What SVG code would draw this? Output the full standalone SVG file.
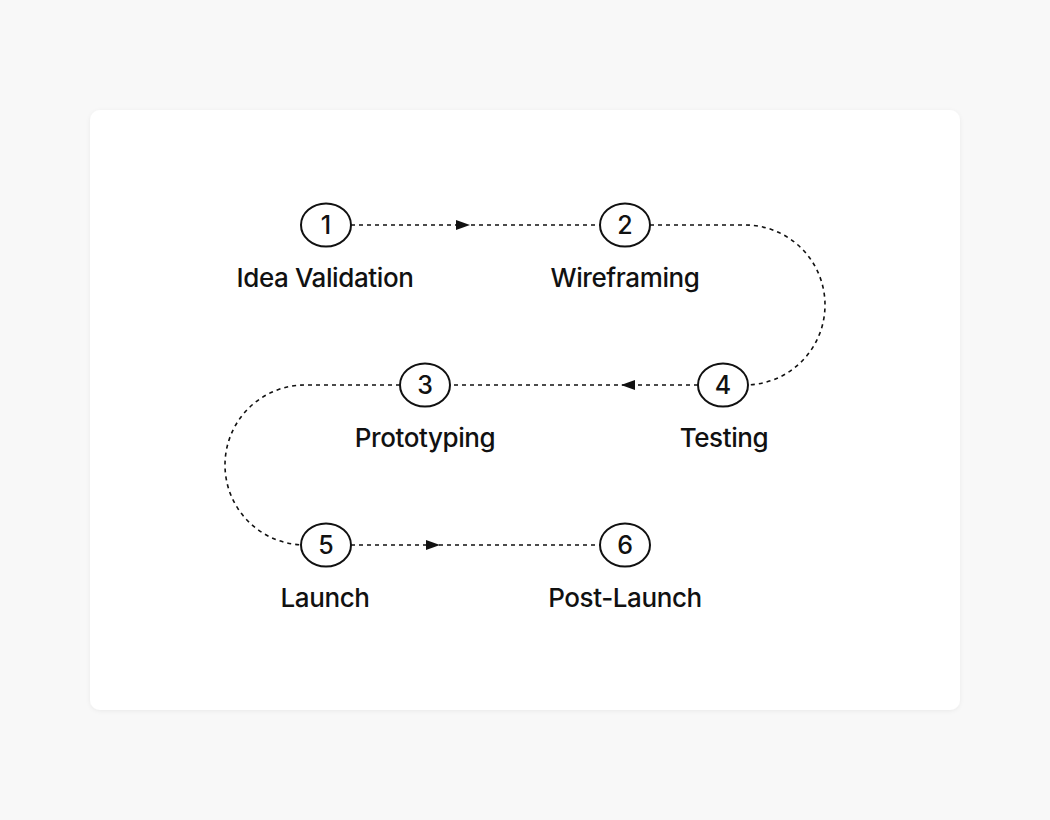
<svg xmlns="http://www.w3.org/2000/svg" width="1050" height="820" viewBox="0 0 1050 820">
  <defs>
    <filter id="shadow" x="-5%" y="-5%" width="110%" height="110%">
      <feDropShadow dx="0" dy="1" stdDeviation="2" flood-color="#000" flood-opacity="0.06"/>
    </filter>
    <style>
      .conn { fill: none; stroke: #111; stroke-width: 1.6; stroke-dasharray: 4 4; }
      .arrow { fill: #111; stroke: none; }
      .node ellipse { fill: #fff; stroke: #111; stroke-width: 2; }
      .num { font-family: Inter, "Liberation Sans", sans-serif; font-size: 25px; font-weight: 500; fill: #111; text-anchor: middle; }
      .label { font-family: Inter, "Liberation Sans", sans-serif; font-size: 26px; font-weight: 500; fill: #111; text-anchor: middle; letter-spacing: -0.4px; }
    </style>
  </defs>
  <rect width="1050" height="820" fill="#f8f8f8"/>
  <rect x="90" y="110" width="870" height="600" rx="10" fill="#fff" filter="url(#shadow)"/>

  <g id="connectors">
    <path class="conn" d="M351,225 H600"/>
    <path class="arrow" d="M456,220 L470,225 L456,230 Z"/>
    <path class="conn" d="M650,225 H745 A80,80 0 0 1 745,385 H748"/>
    <path class="conn" d="M698,385 H450"/>
    <path class="arrow" d="M635,380 L621,385 L635,390 Z"/>
    <path class="conn" d="M400,385 H305 A80,80 0 0 0 305,545 H301"/>
    <path class="conn" d="M351,545 H600"/>
    <path class="arrow" d="M426,540 L440,545 L426,550 Z"/>
  </g>

  <g id="node1" class="node">
    <ellipse cx="326" cy="225" rx="25" ry="21.5"/>
    <text class="num" x="326" y="234">1</text>
    <text class="label" x="325" y="287">Idea Validation</text>
  </g>
  <g id="node2" class="node">
    <ellipse cx="625" cy="225" rx="25" ry="21.5"/>
    <text class="num" x="625" y="234">2</text>
    <text class="label" x="625" y="287">Wireframing</text>
  </g>
  <g id="node3" class="node">
    <ellipse cx="425" cy="385" rx="25" ry="21.5"/>
    <text class="num" x="425" y="394">3</text>
    <text class="label" x="425" y="447">Prototyping</text>
  </g>
  <g id="node4" class="node">
    <ellipse cx="723" cy="385" rx="25" ry="21.5"/>
    <text class="num" x="723" y="394">4</text>
    <text class="label" x="724" y="447">Testing</text>
  </g>
  <g id="node5" class="node">
    <ellipse cx="326" cy="545" rx="25" ry="21.5"/>
    <text class="num" x="326" y="554">5</text>
    <text class="label" x="325" y="607">Launch</text>
  </g>
  <g id="node6" class="node">
    <ellipse cx="625" cy="545" rx="25" ry="21.5"/>
    <text class="num" x="625" y="554">6</text>
    <text class="label" x="625" y="607">Post-Launch</text>
  </g>
</svg>
